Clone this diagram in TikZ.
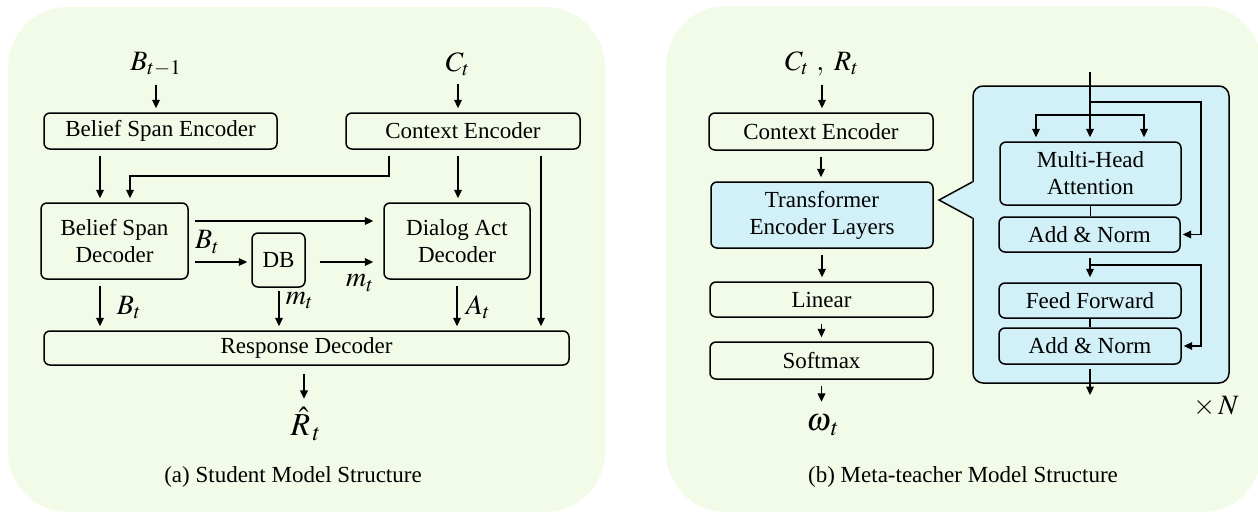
\documentclass[tikz,border=0pt]{standalone}
\usepackage{mathptmx}
\usepackage{fontspec}
\setmainfont{Liberation Serif}
\usetikzlibrary{arrows.meta}
\definecolor{panelgreen}{RGB}{242,251,232}
\definecolor{layerblue}{RGB}{210,240,247}

\begin{document}
\begin{tikzpicture}[x=0.5pt,y=-0.5pt,line width=0.75pt,
	box/.style={draw,rounded corners=3pt,align=center,inner sep=0pt,font=\fontsize{11.5}{13.5}\selectfont},
	lbl/.style={inner sep=1pt,font=\fontsize{14}{16}\selectfont},
	big/.style={inner sep=1pt,font=\fontsize{16}{18}\selectfont},
	capt/.style={inner sep=0pt,font=\fontsize{11.5}{13}\selectfont},
	arr/.style={-{Triangle[length=4.2pt,width=3.8pt]},shorten <=3pt,shorten >=2pt}]
		\useasboundingbox (0,0) rectangle (1258,515);
		\fill[panelgreen,rounded corners=30pt] (8,7) rectangle (605,512);
		\fill[panelgreen,rounded corners=30pt] (666,6) rectangle (1262,512);

		\node[lbl] (bt1) at (156,64) {$B_{t-1}$};
		\node[lbl] (ct) at (458,64) {$C_t$};
		\node[box,minimum width=116.5pt,minimum height=18pt] (bse) at (160.5,131) {Belief Span Encoder};
		\node[box,minimum width=117pt,minimum height=18pt] (ce) at (463,131) {Context Encoder};
		\node[box,minimum width=73.5pt,minimum height=38pt] (bsd) at (114.5,241) {Belief Span\\Decoder};
		\node[box,minimum width=26.5pt,minimum height=27pt] (db) at (278.5,260) {DB};
		\node[box,minimum width=73pt,minimum height=38pt] (dad) at (457,241) {Dialog Act\\Decoder};
		\node[box,minimum width=262.5pt,minimum height=17pt] (rd) at (306.5,348) {Response Decoder};
		\node[big] (rhat) at (306,424) {$\hat{R}_{\,t}$};
		\node[capt] (capa) at (293,477) {(a) Student Model Structure};

		\draw[arr] (bt1.south) -- (bt1.south |- bse.north);
		\draw[arr] (ct.south) -- (ct.south |- ce.north);
		\draw[arr] (bse.south -| 100,0) -- (bsd.north -| 100,0);
		\draw[arr] (ce.south -| 389,0) -- ++(0,26) -| (bsd.north -| 130,0);
		\draw[arr] (ce.south -| 458,0) -- (dad.north -| 458,0);
		\draw[arr] (ce.south -| 541,0) -- (rd.north -| 541,0);
		\draw[arr,shorten >=5pt] (bsd.east |- 0,221) -- (dad.west |- 0,221);
		\draw[arr] (bsd.east |- 0,262) -- node[lbl,above=3pt,pos=0.3]{$B_t$} (db.west |- 0,262);
		\draw[arr,shorten <=7pt,shorten >=5pt] (db.east |- 0,262) -- node[lbl,below=5pt,pos=0.7]{$m_t$} (dad.west |- 0,262);
		\draw[arr] (bsd.south -| 100,0) -- node[lbl,right=7pt,pos=0.55]{$B_t$} (rd.north -| 100,0);
		\draw[arr,shorten <=1.5pt] (db.south -| 279,0) -- node[lbl,right=2pt,pos=0.3]{$m_t$} (rd.north -| 279,0);
		\draw[arr] (dad.south -| 457,0) -- node[lbl,right=3pt,pos=0.55]{$A_t$} (rd.north -| 457,0);
		\draw[arr,shorten <=4pt,shorten >=3pt] (rd.south -| 304,0) -- (rhat.north -| 304,0);

		\node[lbl] (crt) at (822,64) {$C_t\ ,\ R_t$};
		\node[box,minimum width=112pt,minimum height=18.5pt] (ce2) at (821,131.5) {Context Encoder};
		\node[box,fill=layerblue,minimum width=111pt,minimum height=33pt] (tel) at (822,215) {Transformer\\Encoder Layers};
		\node[box,minimum width=111.5pt,minimum height=17.5pt] (lin) at (821.5,299.5) {Linear};
		\node[box,minimum width=111.5pt,minimum height=18.5pt] (soft) at (821.5,360.5) {Softmax};
		\node[big] (omg) at (823,425) {$\omega_{\,t}$};
		\node[capt] (capb) at (963,477) {(b) Meta-teacher Model Structure};

		\node[draw,fill=layerblue,rounded corners=5pt,minimum width=128pt,minimum height=148.5pt] (enc) at (1101,234.5) {};
		\fill[layerblue] (939,200) -- (976,181) -- (976,219) -- cycle;
		\draw (enc.west |- 0,182) -- (939,200) -- (enc.west |- 0,218);

		\node[box,fill=layerblue,minimum width=90.5pt,minimum height=31.5pt] (mha) at (1090.5,173.5) {Multi-Head\\Attention};
		\node[box,fill=layerblue,minimum width=90.5pt,minimum height=17.5pt] (an1) at (1089.5,234.5) {Add \& Norm};
		\node[box,fill=layerblue,minimum width=91pt,minimum height=17.5pt] (ff) at (1090,300.5) {Feed Forward};
		\node[box,fill=layerblue,minimum width=91pt,minimum height=18pt] (an2) at (1090,346) {Add \& Norm};
		\node[lbl] (xn) at (1216,407) {$\times\,N$};

		\coordinate (in) at (1090,72);
		\coordinate (fork) at (1090,115);
		\coordinate (res1) at (1090,102);
		\coordinate (res2) at (1090,265);
		\coordinate (out) at (1090,399);

		\draw[arr,shorten <=0pt] (in) -- (mha.north -| in);
		\draw[arr,shorten <=0pt] (fork) -| (mha.north -| 1036,0);
		\draw[arr,shorten <=0pt] (fork) -| (mha.north -| 1144,0);
		\draw[arr,shorten <=0pt,shorten >=1pt] (res1) -- ++(111,0) |- (an1.east);
		\draw (mha.south) -- (mha.south |- an1.north);
		\draw[arr,shorten <=2.5pt,shorten >=2.5pt] (an1.south -| res2) -- (ff.north -| res2);
		\draw[arr,shorten <=0pt,shorten >=1pt] (res2) -- ++(111,0) |- (an2.east);
		\draw (ff.south) -- (ff.south |- an2.north);
		\draw[arr,shorten <=2pt] (an2.south) -- (out);

		\draw[arr] (crt.south) -- (crt.south |- ce2.north);
		\draw[arr] (ce2.south) -- (ce2.south |- tel.north);
		\draw[arr] (tel.south) -- (tel.south |- lin.north);
		\draw[arr] (lin.south) -- (lin.south |- soft.north);
		\draw[arr,shorten >=5pt] (soft.south) -- (soft.south |- omg.north);
\end{tikzpicture}
\end{document}
